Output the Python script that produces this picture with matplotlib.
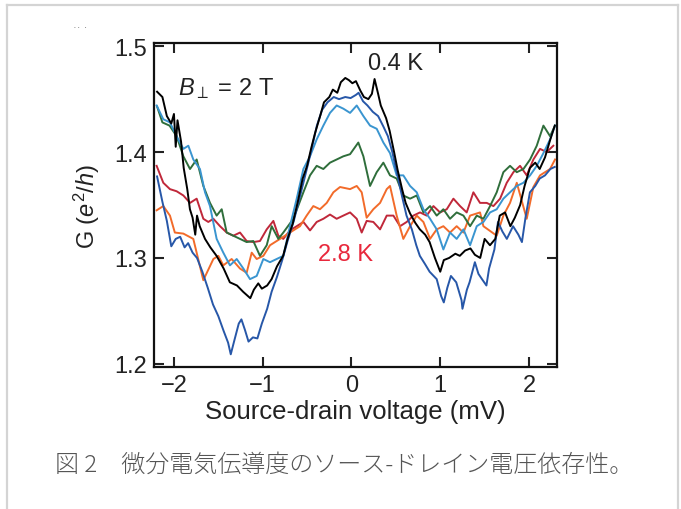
import matplotlib
matplotlib.use("Agg")
import matplotlib.pyplot as plt
from matplotlib.lines import Line2D

plt.rcParams['font.family'] = ['Liberation Sans', 'DejaVu Sans']
plt.rcParams['mathtext.fontset'] = 'custom'
plt.rcParams['mathtext.rm'] = 'Liberation Sans'
plt.rcParams['mathtext.it'] = 'Liberation Sans:italic'

# Differential conductance G (e^2/h) vs source-drain voltage (mV), B_perp = 2 T
v_k04 = [-2.19, -2.13, -2.08, -2.03, -2.00, -1.98, -1.96, -1.92, -1.89, -1.85, -1.82, -1.79, -1.76, -1.74,
         -1.71, -1.65, -1.59, -1.52, -1.44, -1.37, -1.29, -1.22, -1.14, -1.10, -1.05, -1.01, -0.95, -0.90,
         -0.84, -0.77, -0.72, -0.66, -0.60, -0.55, -0.50, -0.45, -0.41, -0.35, -0.31, -0.25, -0.21, -0.16,
         -0.12, -0.07, -0.03, 0.01, 0.05, 0.10, 0.14, 0.19, 0.23, 0.26, 0.30, 0.33, 0.39, 0.43, 0.48, 0.52,
         0.57, 0.61, 0.66, 0.72, 0.77, 0.83, 0.88, 0.94, 1.00, 1.04, 1.10, 1.17, 1.22, 1.28, 1.34, 1.39,
         1.45, 1.50, 1.56, 1.62, 1.67, 1.73, 1.79, 1.84, 1.90, 1.95, 2.01, 2.07, 2.12, 2.18, 2.24, 2.29]
g_k04 = [1.457, 1.452, 1.434, 1.427, 1.436, 1.405, 1.430, 1.410, 1.385, 1.365, 1.346, 1.338, 1.322, 1.340,
         1.330, 1.318, 1.310, 1.302, 1.290, 1.277, 1.274, 1.268, 1.262, 1.270, 1.276, 1.271, 1.274, 1.280,
         1.292, 1.302, 1.318, 1.333, 1.355, 1.375, 1.387, 1.405, 1.418, 1.435, 1.447, 1.452, 1.459, 1.456,
         1.466, 1.470, 1.468, 1.465, 1.467, 1.458, 1.452, 1.450, 1.455, 1.469, 1.455, 1.444, 1.432, 1.420,
         1.400, 1.383, 1.365, 1.352, 1.342, 1.333, 1.327, 1.322, 1.315, 1.300, 1.287, 1.298, 1.300, 1.304,
         1.302, 1.307, 1.309, 1.303, 1.300, 1.318, 1.312, 1.318, 1.340, 1.343, 1.330, 1.338, 1.350, 1.368,
         1.385, 1.390, 1.384, 1.395, 1.412, 1.425]

v_db = [-2.19, -2.13, -2.08, -2.03, -1.98, -1.93, -1.88, -1.84, -1.79, -1.74, -1.68, -1.62, -1.56, -1.50,
        -1.44, -1.39, -1.36, -1.32, -1.27, -1.24, -1.20, -1.16, -1.11, -1.06, -1.01, -0.95, -0.90, -0.84,
        -0.78, -0.72, -0.65, -0.59, -0.53, -0.48, -0.43, -0.39, -0.33, -0.27, -0.20, -0.14, -0.07, -0.01,
        0.05, 0.08, 0.13, 0.18, 0.24, 0.30, 0.36, 0.41, 0.46, 0.51, 0.57, 0.62, 0.68, 0.73, 0.77, 0.83,
        0.88, 0.96, 1.01, 1.04, 1.08, 1.12, 1.18, 1.24, 1.25, 1.30, 1.33, 1.39, 1.43, 1.47, 1.52, 1.55,
        1.61, 1.65, 1.70, 1.75, 1.82, 1.88, 1.92, 1.96, 2.01, 2.07, 2.12, 2.18, 2.24, 2.29]
g_db = [1.377, 1.353, 1.335, 1.311, 1.318, 1.320, 1.310, 1.314, 1.305, 1.300, 1.287, 1.272, 1.256, 1.245,
        1.231, 1.220, 1.209, 1.222, 1.238, 1.242, 1.232, 1.221, 1.225, 1.224, 1.238, 1.252, 1.268, 1.282,
        1.298, 1.316, 1.335, 1.355, 1.375, 1.392, 1.410, 1.425, 1.440, 1.447, 1.452, 1.450, 1.452, 1.451,
        1.454, 1.456, 1.448, 1.444, 1.438, 1.434, 1.424, 1.415, 1.400, 1.381, 1.358, 1.340, 1.327, 1.312,
        1.302, 1.294, 1.287, 1.280, 1.264, 1.258, 1.272, 1.283, 1.277, 1.260, 1.252, 1.270, 1.277, 1.296,
        1.285, 1.280, 1.274, 1.290, 1.308, 1.334, 1.325, 1.318, 1.330, 1.322, 1.315, 1.338, 1.362, 1.368,
        1.375, 1.378, 1.384, 1.386]

v_lb = [-2.195, -2.12, -2.045, -1.97, -1.894, -1.838, -1.782, -1.707, -1.650, -1.594, -1.519, -1.444,
        -1.369, -1.293, -1.218, -1.143, -1.068, -0.993, -0.918, -0.843, -0.768, -0.693, -0.617, -0.542,
        -0.467, -0.392, -0.317, -0.242, -0.167, -0.092, -0.016, 0.059, 0.134, 0.209, 0.284, 0.359, 0.434,
        0.509, 0.584, 0.660, 0.735, 0.810, 0.885, 0.960, 1.035, 1.110, 1.185, 1.261, 1.336, 1.411, 1.486,
        1.561, 1.636, 1.711, 1.786, 1.862, 1.937, 2.012, 2.087, 2.162, 2.237, 2.293]
g_lb = [1.444, 1.431, 1.428, 1.415, 1.403, 1.406, 1.393, 1.384, 1.362, 1.349, 1.318, 1.305,
        1.293, 1.299, 1.290, 1.280, 1.283, 1.299, 1.296, 1.299, 1.302, 1.330, 1.356, 1.384,
        1.396, 1.412, 1.425, 1.437, 1.444, 1.441, 1.437, 1.444, 1.434, 1.425, 1.422, 1.409, 1.399,
        1.378, 1.378, 1.368, 1.362, 1.346, 1.337, 1.327, 1.308, 1.324, 1.318, 1.327, 1.312, 1.330, 1.334,
        1.343, 1.346, 1.356, 1.362, 1.368, 1.371, 1.378, 1.387, 1.399, 1.412, 1.425]

v_gr = [-2.19, -2.13, -2.05, -1.97, -1.894, -1.819, -1.744, -1.669, -1.594, -1.519, -1.462, -1.406,
        -1.331, -1.256, -1.181, -1.106, -1.031, -0.955, -0.899, -0.824, -0.768, -0.655, -0.542, -0.467,
        -0.392, -0.317, -0.242, -0.167, -0.092, -0.016, 0.077, 0.134, 0.209, 0.284, 0.359, 0.434, 0.509,
        0.584, 0.660, 0.735, 0.810, 0.885, 0.960, 1.035, 1.110, 1.185, 1.261, 1.336, 1.411, 1.486, 1.561,
        1.636, 1.711, 1.786, 1.862, 1.937, 2.012, 2.087, 2.162, 2.237, 2.293]
g_gr = [1.443, 1.428, 1.425, 1.415, 1.396, 1.384, 1.393, 1.368, 1.352, 1.340, 1.346, 1.324,
        1.321, 1.318, 1.315, 1.316, 1.302, 1.312, 1.330, 1.318, 1.324, 1.337, 1.362, 1.378,
        1.387, 1.384, 1.390, 1.393, 1.396, 1.398, 1.409, 1.396, 1.368, 1.381, 1.390, 1.378, 1.375,
        1.359, 1.356, 1.359, 1.343, 1.349, 1.340, 1.346, 1.337, 1.343, 1.340, 1.330, 1.340, 1.337, 1.349,
        1.362, 1.381, 1.387, 1.381, 1.384, 1.393, 1.406, 1.425, 1.415, 1.425]

v_or = [-2.195, -2.12, -2.045, -1.99, -1.894, -1.782, -1.669, -1.556, -1.50, -1.444, -1.35, -1.256,
        -1.181, -1.124, -1.068, -0.993, -0.918, -0.805, -0.693, -0.580, -0.505, -0.430, -0.355, -0.279,
        -0.204, -0.129, -0.016, 0.059, 0.115, 0.171, 0.246, 0.322, 0.397, 0.434, 0.509, 0.584, 0.660,
        0.735, 0.810, 0.885, 0.960, 1.035, 1.110, 1.185, 1.261, 1.336, 1.448, 1.486, 1.636, 1.711, 1.786,
        1.862, 1.974, 2.049, 2.124, 2.237, 2.293]
g_or = [1.345, 1.349, 1.340, 1.324, 1.323, 1.318, 1.279, 1.299, 1.302, 1.293, 1.299, 1.290,
        1.286, 1.305, 1.299, 1.302, 1.312, 1.318, 1.324, 1.330, 1.340, 1.349, 1.346, 1.352,
        1.362, 1.367, 1.365, 1.368, 1.362, 1.338, 1.346, 1.352, 1.365, 1.368, 1.340, 1.318, 1.330,
        1.340, 1.334, 1.318, 1.327, 1.330, 1.324, 1.330, 1.324, 1.340, 1.343, 1.330, 1.321, 1.340, 1.352,
        1.371, 1.337, 1.367, 1.378, 1.384, 1.393]

v_k28 = [-2.195, -2.12, -2.045, -1.97, -1.894, -1.819, -1.744, -1.669, -1.613, -1.556, -1.481, -1.406,
         -1.331, -1.256, -1.181, -1.106, -1.031, -0.955, -0.880, -0.824, -0.768, -0.693, -0.617, -0.542,
         -0.467, -0.392, -0.317, -0.242, -0.167, -0.092, -0.016, 0.059, 0.115, 0.171, 0.246, 0.322, 0.397,
         0.472, 0.547, 0.622, 0.697, 0.772, 0.847, 0.923, 0.998, 1.073, 1.148, 1.223, 1.298, 1.373, 1.448,
         1.523, 1.599, 1.674, 1.749, 1.824, 1.899, 1.974, 2.049, 2.124, 2.199, 2.274]
g_k28 = [1.387, 1.371, 1.365, 1.363, 1.359, 1.352, 1.356, 1.337, 1.334, 1.337, 1.330, 1.324,
         1.321, 1.324, 1.316, 1.315, 1.316, 1.327, 1.335, 1.321, 1.318, 1.326, 1.330, 1.334,
         1.326, 1.334, 1.337, 1.341, 1.337, 1.340, 1.343, 1.337, 1.324, 1.335, 1.334, 1.327, 1.340,
         1.340, 1.330, 1.334, 1.340, 1.343, 1.340, 1.349, 1.343, 1.346, 1.356, 1.349, 1.343, 1.362, 1.352,
         1.352, 1.349, 1.356, 1.371, 1.381, 1.387, 1.378, 1.393, 1.403, 1.400, 1.406]

x_ticks = [-2, -1, 0, 1, 2]
y_ticks = [1.2, 1.3, 1.4, 1.5]

series = [
    (v_k28, g_k28, '#c0283a'),
    (v_or, g_or, '#f26b2a'),
    (v_gr, g_gr, '#2f6e3b'),
    (v_lb, g_lb, '#3a95d0'),
    (v_db, g_db, '#2757a8'),
    (v_k04, g_k04, '#000000'),
]

fig = plt.figure(figsize=(6.81, 5.10), dpi=100)
ax = fig.add_axes([0.2261, 0.2784, 0.5918, 0.6353])

for v, g, c in series:
    ax.plot(v, g, color=c, lw=1.4)

ax.set_xlim(-2.225, 2.315)
ax.set_ylim(1.197, 1.503)
ax.set_xticks(x_ticks)
ax.set_xticklabels(['\u22122', '\u22121', '0', '1', '2'])
ax.set_yticks(y_ticks)
ax.set_yticklabels(['1.2', '1.3', '1.4', '1.5'])
ax.tick_params(direction='in', length=7, width=1.5, labelsize=17, top=True, right=True,
               colors='#222222', pad=5)
for s in ax.spines.values():
    s.set_linewidth(1.6)
    s.set_color('#111111')

ax.set_xlabel('Source-drain voltage (mV)', fontsize=18.5, color='#222222', labelpad=2)
ax.set_ylabel(r'G ($e^2$/$h$)', fontsize=17, color='#222222')
ax.yaxis.set_label_coords(-0.13, 0.5)

ax.text(-1.95, 1.455, r'$B_{\perp}$ = 2 T', fontsize=17, color='#222222', va='baseline')
ax.text(0.19, 1.478, '0.4 K', fontsize=17, color='#222222', va='baseline')
ax.text(-0.38, 1.298, '2.8 K', fontsize=17, color='#e8283c', va='baseline')

fig.text(55 / 681, 1 - 465 / 510, '図 2\u3000微分電気伝導度のソース-ドレイン電圧依存性。',
         fontsize=17.3, color='#555555', va='center', ha='left',
         family=['Noto Sans CJK JP', 'DejaVu Sans'], fontweight='light')

fig.text(73 / 681, 1 - 28 / 510, '·· ·', fontsize=8, color='#777777', va='center')

# light grey frame around the figure (open at the bottom)
frame = dict(color='#d4d4d4', lw=1.6, transform=fig.transFigure)
fig.add_artist(Line2D([7 / 681, 7 / 681], [0, 1 - 6 / 510], **frame))
fig.add_artist(Line2D([678 / 681, 678 / 681], [0, 1 - 6 / 510], **frame))
fig.add_artist(Line2D([7 / 681, 678 / 681], [1 - 6 / 510, 1 - 6 / 510], **frame))

fig.savefig('out.png', dpi=100)
